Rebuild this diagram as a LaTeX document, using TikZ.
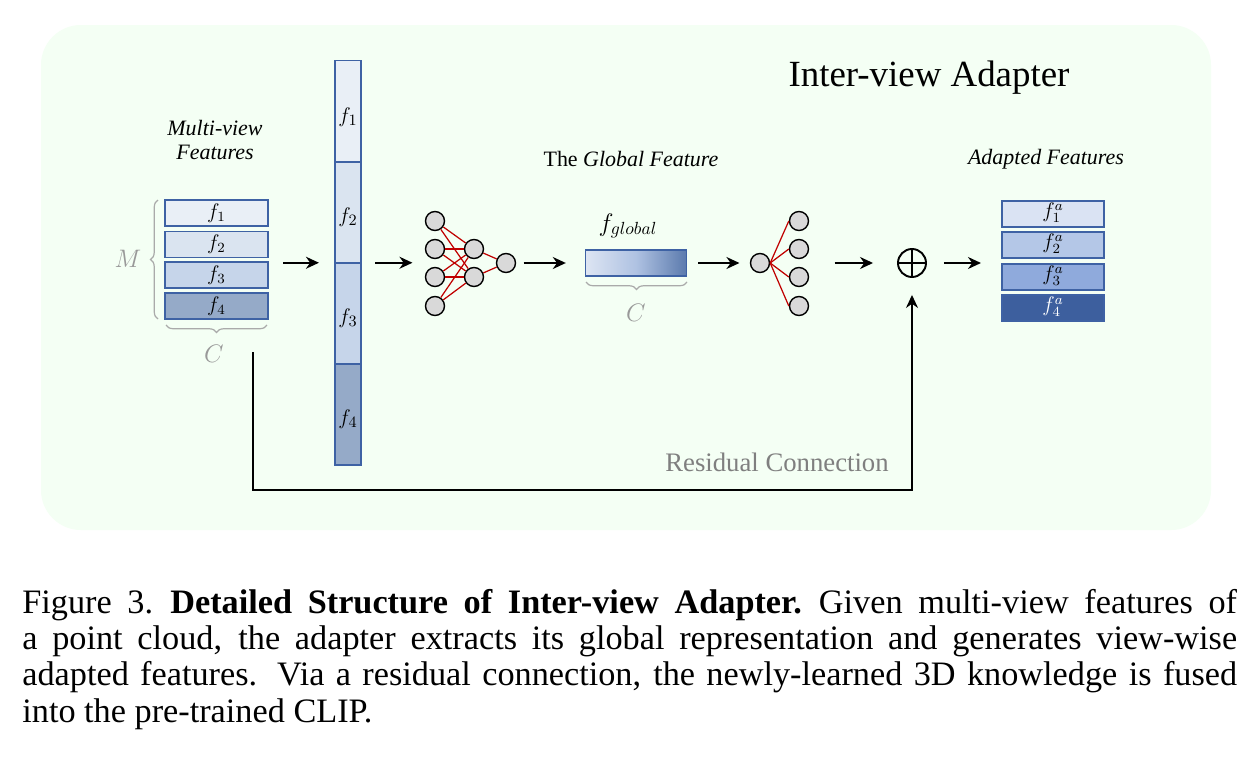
\documentclass[tikz,border=0pt]{standalone}
\usepackage{fontspec}
\setmainfont{Liberation Serif}
\usetikzlibrary{arrows.meta,decorations.pathreplacing,calc,fit}
\definecolor{bgc}{HTML}{F4FFF4}
\definecolor{bord}{HTML}{3E62A4}
\definecolor{lf1}{HTML}{E9EFF6}
\definecolor{lf2}{HTML}{DAE4F0}
\definecolor{lf3}{HTML}{C6D5EA}
\definecolor{lf4}{HTML}{95AAC8}
\definecolor{af1}{HTML}{DAE3F3}
\definecolor{af2}{HTML}{B4C7E7}
\definecolor{af3}{HTML}{8FAADC}
\definecolor{af4}{HTML}{3D5F9E}
\definecolor{gl1}{HTML}{DDE5F3}
\definecolor{glm}{HTML}{AFC2E2}
\definecolor{gl2}{HTML}{5B7AAD}
\definecolor{ngray}{HTML}{D9D9D9}
\definecolor{synred}{HTML}{C00000}
\definecolor{braceg}{HTML}{AAAAAA}
\definecolor{lblg}{HTML}{999999}
\definecolor{resg}{HTML}{7F7F7F}
\begin{document}
\begin{tikzpicture}[x=0.02cm,y=-0.02cm,
  fbox/.style={draw=bord, line width=0.8pt, rectangle, inner sep=0pt, minimum width=2.06cm, minimum height=0.52cm, font=\fontsize{12}{14}\selectfont},
  abox/.style={draw=bord, line width=0.8pt, rectangle, inner sep=0pt, minimum width=2.04cm, minimum height=0.52cm},
  alab/.style={font=\fontsize{11.5}{13}\selectfont, inner sep=0pt},
  cbox/.style={draw=bord, line width=0.8pt, rectangle, inner sep=0pt, minimum width=0.52cm, minimum height=2.02cm},
  clab/.style={font=\fontsize{13}{15}\selectfont, inner sep=0pt},
  neuron/.style={circle, draw=black, fill=ngray, line width=0.8pt, minimum size=0.38cm, inner sep=0pt},
  syn/.style={draw=synred, line width=0.7pt},
  arr/.style={-{Stealth[length=0.26cm,width=0.24cm]}, line width=1.1pt},
  gbrace/.style={decorate, decoration={brace, amplitude=0.15cm}, draw=braceg, line width=0.7pt},
  lbl/.style={font=\fontsize{12.5}{13.6}\selectfont\itshape, align=center},
  glbl/.style={text=lblg, font=\fontsize{14}{16}\selectfont},
  oplusst/.style={circle, draw=black, line width=1.1pt, minimum size=0.56cm, inner sep=0pt,
    path picture={\draw[line width=1.1pt] (path picture bounding box.north) -- (path picture bounding box.south)
      (path picture bounding box.west) -- (path picture bounding box.east);}},
  hid/.style={inner sep=0pt}
]
\useasboundingbox (0,0) rectangle (1242,764);
\fill[white] (0,0) rectangle (1242,764);
\fill[bgc, rounded corners=0.8cm] (41,25) rectangle (1211,530);

% title
\node[font=\fontsize{21}{24}\selectfont] (title) at (929,78) {Inter-view Adapter};

% left stack
\node[lbl] (mvl) at (215,140) {Multi-view\\Features};
\node[fbox, fill=lf1] (l1) at (216.5,213) {$f_1$};
\node[fbox, fill=lf2] (l2) at (216.5,244.5) {$f_2$};
\node[fbox, fill=lf3] (l3) at (216.5,275) {$f_3$};
\node[fbox, fill=lf4] (l4) at (216.5,306) {$f_4$};
\node[fit=(l1)(l4), hid] (lst) {};
\draw[gbrace] (158,319) -- (158,200);
\node[glbl] (mlab) at (128,259) {$M$};
\draw[gbrace] (267,325) -- (166,325);
\node[glbl] (clab1) at (214,354) {$C$};

% tall column
\node[cbox, fill=lf1] (c1) at (348,111) {};
\node[cbox, fill=lf2] (c2) at (348,212.5) {};
\node[cbox, fill=lf3] (c3) at (348,313.5) {};
\node[cbox, fill=lf4] (c4) at (348,414.5) {};
\node[clab] (t1) at (348,117) {$f_1$};
\node[clab] (t2) at (348,217) {$f_2$};
\node[clab] (t3) at (348,318) {$f_3$};
\node[clab] (t4) at (348,419) {$f_4$};
\node[fit=(c1)(c4), hid] (col) {};

% first network
\node[neuron] (i1) at (435,221) {};
\node[neuron] (i2) at (435,249) {};
\node[neuron] (i3) at (435,277) {};
\node[neuron] (i4) at (435,306) {};
\node[neuron] (h1) at (474,249) {};
\node[neuron] (h2) at (474,277) {};
\node[neuron] (o1) at (506,263) {};
\foreach \i in {i1,i2,i3,i4}{\foreach \h in {h1,h2}{\draw[syn] (\i) -- (\h);}}
\draw[syn] (h1) -- (o1);
\draw[syn] (h2) -- (o1);
\node[fit=(i1)(i4)(o1), hid] (nn1) {};

% global feature
\node[font=\fontsize{12.5}{14}\selectfont] (gtitle) at (631,159) {The \textit{Global Feature}};
\node[font=\fontsize{14.5}{16}\selectfont] (fglab) at (628,226) {$f_{global}$};
\node[draw=bord, line width=0.8pt, rectangle, minimum width=2.02cm, minimum height=0.52cm, inner sep=0pt,
  left color=gl1, right color=gl2, middle color=glm] (fg) at (636,263) {};
\draw[gbrace] (687,282) -- (586,282);
\node[glbl] (clab2) at (636,313) {$C$};

% second network
\node[neuron] (g1) at (760,263) {};
\node[neuron] (p1) at (799,221) {};
\node[neuron] (p2) at (799,249) {};
\node[neuron] (p3) at (799,277) {};
\node[neuron] (p4) at (799,306) {};
\foreach \p in {p1,p2,p3,p4}{\draw[syn] (g1.east) -- (\p.west);}
\node[fit=(g1)(p1)(p4), hid] (nn2) {};

% oplus
\node[oplusst] (op) at (912,263) {};

% adapted features
\node[lbl] (afl) at (1046,159) {Adapted Features};
\node[abox, fill=af1] (a1) at (1053,214) {};
\node[abox, fill=af2] (a2) at (1053,245) {};
\node[abox, fill=af3] (a3) at (1053,277) {};
\node[abox, fill=af4] (a4) at (1053,308) {};
\node[alab] (s1) at (1053,213) {$f_1^a$};
\node[alab] (s2) at (1053,244) {$f_2^a$};
\node[alab] (s3) at (1053,276) {$f_3^a$};
\node[alab, text=white] (s4) at (1053,307) {$f_4^a$};
\node[fit=(a1)(a4), hid] (ast) {};

% arrows
\draw[arr, shorten <=0.28cm, shorten >=0.3cm] (lst.east |- col.west) -- (col.west);
\draw[arr, shorten <=0.26cm, shorten >=0.24cm] (col.east) -- (nn1.west |- col.east);
\draw[arr, shorten <=0.14cm, shorten >=0.38cm] (nn1.east |- fg.west) -- (fg.west);
\draw[arr, shorten <=0.22cm, shorten >=0.2cm] (fg.east) -- (nn2.west |- fg.east);
\draw[arr, shorten <=0.5cm, shorten >=0.48cm] (nn2.east |- op.west) -- (op.west);
\draw[arr, shorten <=0.34cm, shorten >=0.4cm] (op.east) -- (ast.west |- op.east);

% residual
\coordinate (rs) at (253,352);
\coordinate (rc) at (253,490);
\draw[arr, shorten >=0.34cm] (rs) -- (rc) -| (op.south);
\node[text=resg, font=\fontsize{15.2}{17}\selectfont] (reslab) at (777,462) {Residual Connection};

% caption
\node[anchor=north west, text width=24.3cm, align=justify, inner sep=0pt, font=\fontsize{19.5}{20.6}\selectfont] (cap) at (22,589)
{Figure 3.\hspace{0.5em}\textbf{Detailed Structure of Inter-view Adapter.}\hspace{0.5em}Given multi-view features of\linebreak
a point cloud, the adapter extracts its global representation and generates view-wise\linebreak
adapted features. Via a residual connection, the newly-learned 3D knowledge is fused\linebreak
into the pre-trained CLIP.};
\end{tikzpicture}
\end{document}
